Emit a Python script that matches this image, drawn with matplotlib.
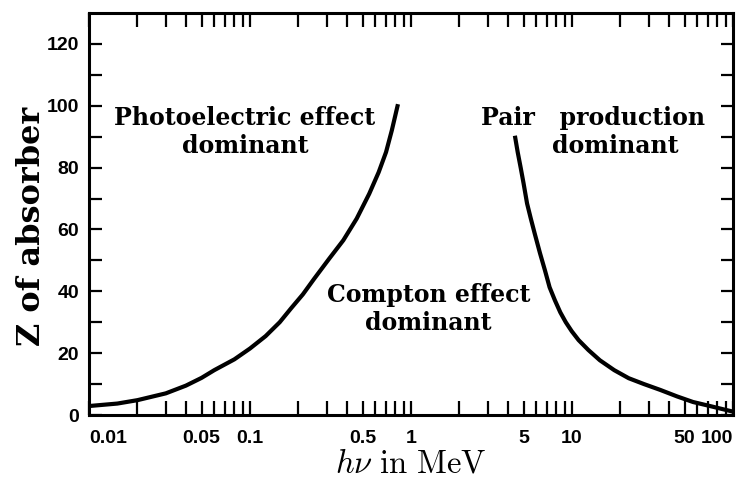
import numpy as np
import matplotlib
matplotlib.use("Agg")
import matplotlib.pyplot as plt
from matplotlib.ticker import FixedLocator, FixedFormatter

plt.rcParams["mathtext.fontset"] = "cm"

# photoelectric / Compton boundary (photon energy in MeV, Z)
photo_hv = [0.01, 0.015, 0.02, 0.03, 0.04, 0.05, 0.06, 0.08, 0.1, 0.125, 0.153,
            0.18, 0.213, 0.25, 0.31, 0.38, 0.46, 0.55, 0.63, 0.7, 0.76, 0.83]
photo_z = [2.9, 3.7, 4.8, 7.0, 9.5, 12.0, 14.5, 18.0, 21.5, 25.5, 30.0,
           34.5, 39.0, 44.0, 50.5, 56.5, 63.5, 71.5, 78.5, 85.0, 92.0, 100.5]

# Compton / pair production boundary
pair_hv = [4.42, 4.6, 4.8, 5.0, 5.26, 5.55, 5.88, 6.33, 6.8, 7.26, 7.83, 8.46,
           9.15, 9.96, 11.0, 12.65, 14.9, 18.3, 22.5, 28.0, 35.4, 45.0, 56.5,
           72.0, 91.0, 100.0]
pair_z = [90.3, 85.0, 80.0, 75.0, 68.4, 63.5, 58.5, 52.3, 46.7, 41.3, 37.1, 33.2,
          30.0, 27.1, 24.2, 21.0, 17.7, 14.5, 11.9, 10.0, 8.1, 6.0, 4.2,
          2.9, 1.6, 1.1]

# axis ticks
x_ticks = [0.01, 0.02, 0.03, 0.04, 0.05, 0.06, 0.07, 0.08, 0.09,
           0.1, 0.2, 0.3, 0.4, 0.5, 0.6, 0.7, 0.8, 0.9,
           1, 2, 3, 4, 5, 6, 7, 8, 9,
           10, 20, 30, 40, 50, 60, 70, 80, 90, 100]
x_labeled = {0.01: "0.01", 0.05: "0.05", 0.1: "0.1", 0.5: "0.5", 1: "1",
             5: "5", 10: "10", 50: "50", 100: "100"}
y_ticks = list(range(0, 130, 10))
y_labels = [str(v) if v % 20 == 0 else "" for v in y_ticks]

fig = plt.figure(figsize=(7.51, 4.79), dpi=100)
ax = fig.add_axes([0.1185, 0.1336, 0.8575, 0.8394])

ax.plot(photo_hv, photo_z, color="black", lw=3.0, solid_capstyle="butt",
        solid_joinstyle="round")
ax.plot(pair_hv, pair_z, color="black", lw=3.0, solid_capstyle="butt",
        solid_joinstyle="round")

ax.set_xscale("log")
ax.set_xlim(0.01, 100)
ax.set_ylim(0, 130)

ax.xaxis.set_major_locator(FixedLocator(x_ticks))
ax.xaxis.set_major_formatter(FixedFormatter([x_labeled.get(v, "") for v in x_ticks]))
ax.xaxis.set_minor_locator(FixedLocator([]))
ax.yaxis.set_major_locator(FixedLocator(y_ticks))
ax.yaxis.set_major_formatter(FixedFormatter(y_labels))

ax.tick_params(axis="x", which="both", direction="in", top=True, length=10,
               width=1.6, pad=11)
ax.tick_params(axis="y", which="both", direction="in", right=True, length=9,
               width=1.6, pad=7)
for lab in ax.get_xticklabels() + ax.get_yticklabels():
    lab.set_fontfamily("Liberation Sans")
    lab.set_fontweight("bold")
    lab.set_fontsize(14)

# keep the end labels inside the frame
xt = ax.get_xticklabels()
xt[0].set_ha("left")
xt[-1].set_ha("right")

for sp in ax.spines.values():
    sp.set_linewidth(2.2)

serif_bold = dict(family="DejaVu Serif", fontweight="bold", fontsize=17,
                  ha="center", va="center", linespacing=1.2)
ax.text(0.093, 91.6, "Photoelectric effect\ndominant", **serif_bold)
ax.text(13.5, 96.1, "Pair   production", **serif_bold)
ax.text(18.5, 87.1, "dominant", **serif_bold)
ax.text(1.28, 34.4, "Compton effect\ndominant", **serif_bold)

ax.set_ylabel("Z of absorber", family="DejaVu Serif", fontweight="bold",
              fontsize=23)
ax.yaxis.set_label_coords(-0.065, 0.468)
ax.set_xlabel(r"$h\nu\ \mathrm{in\ MeV}$", fontsize=23.5, va="baseline")
ax.xaxis.set_label_coords(0.5, -0.142)

fig.savefig("out.png", dpi=100)
